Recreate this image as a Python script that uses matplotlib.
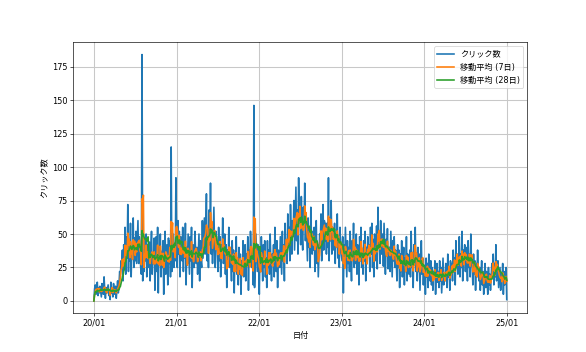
import numpy as np
import pandas as pd
import matplotlib
matplotlib.use("Agg")
import matplotlib.pyplot as plt
import matplotlib.dates as mdates

plt.rcParams['font.family'] = ['DejaVu Sans', 'Noto Sans CJK JP']

# クリック数 (3日ごとの読み取り値, 2020/01/01 - 2025/01/01)
clicks_2020 = [
    0, 9, 12, 5, 8, 14, 4, 10, 6, 11, 7,
    3, 13, 7, 5, 18, 8, 2, 10, 6, 9,
    12, 4, 8, 1, 14, 6, 10, 3, 13, 7,
    5, 11, 2, 9, 15, 6, 12, 22, 18, 30,
    25, 38, 15, 42, 28, 55, 20, 48, 32, 72,
    22, 45, 30, 58, 18, 40, 35, 62, 25, 47,
    30, 52, 28, 44, 60, 28, 48, 36, 25, 20,
    184, 15, 38, 22, 45, 30, 50, 18, 42, 35,
    25, 44, 15, 38, 52, 20, 35, 28, 47, 8,
    30, 48, 22, 55, 6, 40, 33, 50, 18, 37,
    25, 45, 5, 38, 52, 20, 35, 42, 12, 47,
    28, 45, 18, 115, 22, 38, 50, 25, 42, 30, 92,
]
clicks_2021 = [
    45, 25, 60, 35, 52, 18, 48, 38, 30, 55,
    22, 44, 32, 58, 12, 40, 28, 50, 35, 20,
    48, 30, 55, 10, 42, 36, 25, 52, 38, 28,
    40, 20, 35, 50, 15, 45, 30, 25, 60, 32,
    48, 62, 35, 55, 80, 30, 52, 25, 68, 42,
    88, 35, 55, 28, 50, 70, 38, 25, 52, 42,
    40, 22, 55, 30, 48, 18, 42, 35, 62, 28,
    35, 50, 20, 42, 10, 38, 28, 55, 25, 40,
    30, 15, 45, 22, 38, 6, 35, 25, 48, 20,
    28, 12, 40, 20, 35, 5, 30, 22, 45, 18,
    25, 42, 15, 35, 28, 48, 8, 38, 30, 52,
    40, 25, 30, 12, 146, 10, 28, 50, 35, 22, 42, 30,
]
clicks_2022 = [
    5, 38, 22, 48, 30, 15, 42, 25, 45, 18,
    32, 10, 45, 25, 38, 20, 50, 30, 15, 35,
    28, 42, 18, 55, 30, 22, 45, 10, 38, 33,
    25, 48, 35, 20, 52, 30, 42, 15, 58, 35,
    45, 28, 65, 40, 55, 30, 72, 48, 35, 60,
    50, 75, 38, 62, 85, 45, 68, 35, 92, 58,
    62, 42, 78, 50, 38, 70, 55, 88, 45, 65,
    48, 30, 62, 40, 55, 25, 70, 45, 35, 52,
    38, 55, 22, 45, 60, 28, 42, 18, 35, 50,
    42, 65, 30, 55, 72, 38, 60, 45, 58, 35,
    58, 40, 92, 30, 62, 45, 75, 35, 55, 48,
    38, 58, 28, 50, 42, 65, 32, 48, 25, 55, 40, 35,
]
clicks_2023 = [
    30, 48, 6, 42, 25, 55, 35, 18, 45, 28,
    40, 22, 52, 30, 15, 45, 35, 58, 25, 38,
    28, 50, 20, 42, 35, 12, 48, 30, 55, 25,
    38, 20, 45, 30, 52, 15, 40, 28, 48, 35,
    42, 22, 55, 35, 58, 25, 46, 18, 50, 38,
    30, 56, 24, 70, 40, 48, 28, 60, 35, 44,
    50, 26, 58, 38, 20, 46, 34, 54, 24, 40,
    40, 22, 52, 35, 18, 45, 30, 48, 25, 38,
    30, 15, 42, 25, 38, 10, 35, 22, 45, 18,
    28, 40, 12, 32, 22, 48, 15, 35, 25, 20,
    38, 18, 52, 25, 32, 10, 42, 28, 55, 22,
    30, 15, 40, 22, 35, 8, 28, 45, 20, 32, 12, 26,
]
clicks_2024 = [
    25, 5, 32, 18, 28, 10, 35, 20, 15, 30,
    12, 25, 8, 22, 18, 30, 5, 20, 28, 14,
    22, 10, 30, 15, 25, 6, 20, 32, 12, 18,
    15, 28, 22, 10, 35, 18, 25, 8, 30, 20,
    28, 15, 38, 22, 32, 12, 45, 25, 35, 20,
    30, 48, 18, 35, 25, 52, 15, 38, 28, 42,
    22, 40, 30, 15, 45, 25, 35, 18, 50, 28,
    25, 12, 35, 20, 30, 8, 28, 18, 38, 22,
    15, 25, 8, 20, 30, 12, 22, 5, 18, 28,
    10, 22, 15, 5, 25, 12, 20, 8, 18, 28,
    22, 35, 12, 28, 18, 42, 15, 25, 30, 10,
    18, 25, 8, 20, 15, 28, 5, 22, 12, 18, 25, 1,
]

clicks = clicks_2020 + clicks_2021 + clicks_2022 + clicks_2023 + clicks_2024
dates = pd.date_range('2020-01-01', '2025-01-01', periods=len(clicks))

s = pd.Series(clicks, index=dates, dtype=float)
ma7 = s.rolling('7D').mean()
ma28 = s.rolling('28D').mean()

fig, ax = plt.subplots(figsize=(586 / 58.6, 352 / 58.6), dpi=58.6)
ax.plot(s.index, s.values, lw=2, label='クリック数')
ax.plot(ma7.index, ma7.values, lw=2, label='移動平均 (7日)')
ax.plot(ma28.index, ma28.values, lw=2, label='移動平均 (28日)')

ax.xaxis.set_major_locator(mdates.YearLocator())
ax.xaxis.set_major_formatter(mdates.DateFormatter('%y/%m'))
ax.set_xlabel('日付')
ax.set_ylabel('クリック数')
ax.grid(True, color='#c8c8c8', lw=1.3)
ax.legend(loc='upper right')

fig.savefig('out.png', dpi=58.6)
